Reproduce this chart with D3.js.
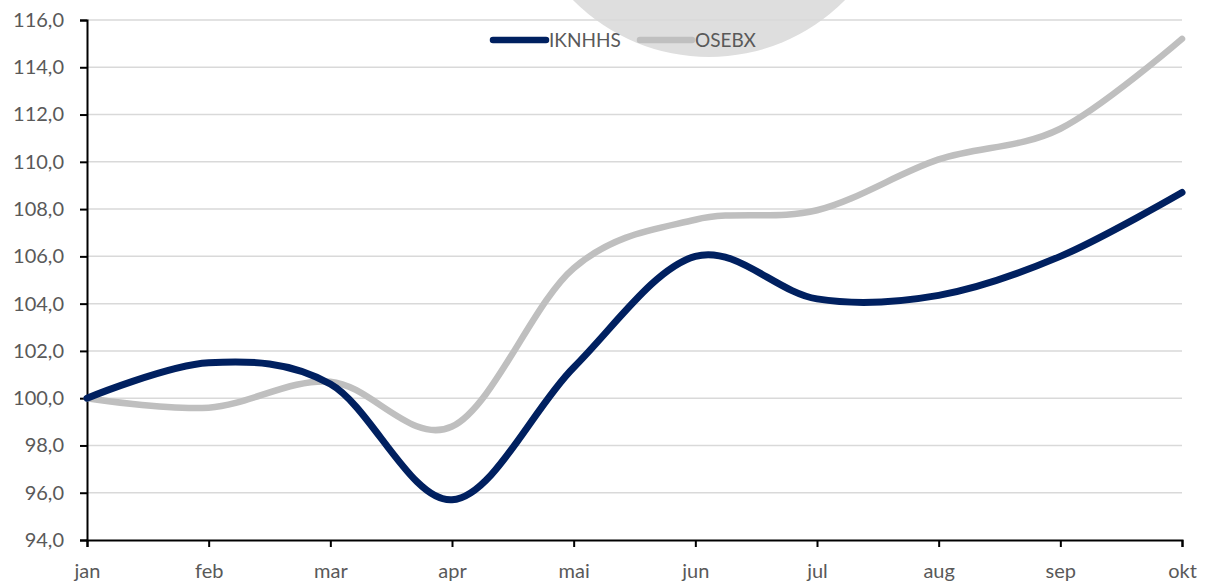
<!DOCTYPE html>
<html>
<head>
<meta charset="utf-8">
<script src="https://cdn.jsdelivr.net/npm/d3@7/dist/d3.min.js"></script>
<style>
  html, body { margin: 0; padding: 0; background: #fff; }
  svg { display: block; }
  text { font-family: Lato, "Open Sans", sans-serif; fill: #595959; }
</style>
</head>
<body>
<svg id="chart" width="1206" height="581"></svg>
<script>
const months = ["jan","feb","mar","apr","mai","jun","jul","aug","sep","okt"];
const iknhhs = [100.0, 101.5, 100.6, 95.7, 101.3, 106.0, 104.2, 104.35, 106.0, 108.7];
const osebx  = [100.0, 99.6, 100.7, 98.8, 105.5, 107.55, 107.95, 110.1, 111.4, 115.2];
const yTicks = [94, 96, 98, 100, 102, 104, 106, 108, 110, 112, 114, 116];
const seriesNames = ["IKNHHS", "OSEBX"];
const seriesColors = ["#002060", "#BFBFBF"];

const svg = d3.select("#chart");
const mLeft = 87, mRight = 1182, mTop = 20, mBottom = 540;

const x = d3.scalePoint().domain(months).range([mLeft, mRight]);
const y = d3.scaleLinear().domain([94, 116]).range([mBottom, mTop]);

// watermark circle
svg.append("circle").attr("cx", 709).attr("cy", -134).attr("r", 191).attr("fill", "#dedede");

// gridlines
svg.append("g").selectAll("line").data(yTicks.filter(d => d !== 94)).join("line")
  .attr("x1", mLeft).attr("x2", mRight)
  .attr("y1", d => y(d)).attr("y2", d => y(d))
  .attr("stroke", "#d9d9d9").attr("stroke-width", 1.5);

// y axis
const yAxis = svg.append("g").attr("transform", `translate(${mLeft},0)`)
  .call(d3.axisLeft(y).tickValues(yTicks).tickSize(7).tickPadding(16)
    .tickFormat(d => d3.format(".1f")(d).replace(".", ",")));
yAxis.select(".domain").attr("stroke", "#000").attr("stroke-width", 2);
yAxis.selectAll(".tick line").attr("stroke", "#000").attr("stroke-width", 2);
yAxis.selectAll("text").style("font-size", "20px").attr("fill", "#595959").style("font-family", "Lato, sans-serif");

// x axis
const xAxis = svg.append("g").attr("transform", `translate(0,${mBottom})`)
  .call(d3.axisBottom(x).tickSize(7).tickPadding(17));
xAxis.select(".domain").attr("stroke", "#000").attr("stroke-width", 2);
xAxis.selectAll(".tick line").attr("stroke", "#000").attr("stroke-width", 2);
xAxis.selectAll("text").style("font-size", "20px").attr("fill", "#595959").style("font-family", "Lato, sans-serif");

// lines
const line = d3.line().x((d, i) => x(months[i])).y(d => y(d)).curve(d3.curveCatmullRom.alpha(0));
[osebx, iknhhs].forEach((s, k) => {
  const color = k === 0 ? seriesColors[1] : seriesColors[0];
  svg.append("path").datum(s).attr("d", line)
    .attr("fill", "none").attr("stroke", color).attr("stroke-width", k === 0 ? 6.5 : 7)
    .attr("stroke-linecap", "round").attr("stroke-linejoin", "round");
});

// legend
const legendItems = [
  {name: seriesNames[0], color: seriesColors[0], x1: 493, x2: 546, tx: 549},
  {name: seriesNames[1], color: seriesColors[1], x1: 640, x2: 692, tx: 695}
];
const lg = svg.append("g");
legendItems.forEach(it => {
  lg.append("line").attr("x1", it.x1).attr("x2", it.x2).attr("y1", 40).attr("y2", 40)
    .attr("stroke", it.color).attr("stroke-width", 6.5).attr("stroke-linecap", "round");
  lg.append("text").attr("x", it.tx).attr("y", 40).attr("dy", "0.35em")
    .style("font-size", "19px").text(it.name);
});
</script>
</body>
</html>
